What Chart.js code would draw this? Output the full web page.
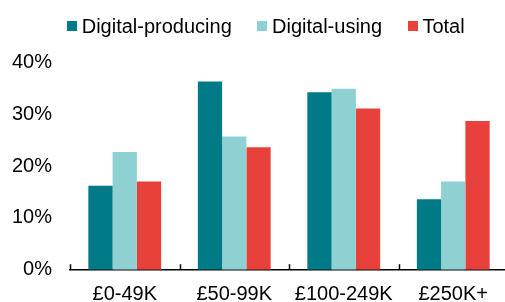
<!DOCTYPE html>
<html>
<head>
<meta charset="utf-8">
<script src="https://cdn.jsdelivr.net/npm/chart.js@4"></script>
<style>
  html, body { margin: 0; padding: 0; background: #fff; overflow: hidden; width: 505px; height: 302px; }
  #wrap { position: absolute; left: 0; top: 0; width: 510px; height: 302px; }
  #legend { position: absolute; left: 67px; top: 16.3px; height: 20px; display: flex; align-items: center;
    font-family: 'Liberation Sans', Arial, sans-serif; font-size: 20px; line-height: 20px; color: #000; white-space: nowrap; }
  .item { display: flex; align-items: center; margin-right: 25.6px; }
  .box { width: 10px; height: 10px; margin-right: 4.7px; }
</style>
</head>
<body>
<div id="wrap"><canvas id="c"></canvas></div>
<div id="legend"></div>
<script>
const categories = ['£0-49K', '£50-99K', '£100-249K', '£250K+'];
const seriesNames = ['Digital-producing', 'Digital-using', 'Total'];
const digitalProducing = [16.2, 36.3, 34.2, 13.6];
const digitalUsing = [22.7, 25.7, 34.9, 17.0];
const total = [17.0, 23.6, 31.1, 28.7];
const yTicks = [0, 10, 20, 30, 40];
const colors = ['#007A87', '#8FD1D2', '#E8403A'];

const seriesValues = [digitalProducing, digitalUsing, total];
const FONT = "'Liberation Sans', Arial, sans-serif";

// HTML legend built from the series names
const lg = document.getElementById('legend');
seriesNames.forEach((n, i) => {
  const it = document.createElement('div'); it.className = 'item';
  const b = document.createElement('div'); b.className = 'box'; b.style.background = colors[i];
  const t = document.createElement('span'); t.textContent = n;
  it.appendChild(b); it.appendChild(t); lg.appendChild(it);
});

const boundaryTicks = {
  id: 'boundaryTicks',
  afterDraw(chart) {
    const x = chart.scales.x, ctx = chart.ctx, area = chart.chartArea;
    const step = x.getPixelForValue(1) - x.getPixelForValue(0);
    ctx.save();
    ctx.strokeStyle = '#000';
    ctx.lineWidth = 1.5;
    for (let i = 0; i <= categories.length; i++) {
      const px = Math.round(x.getPixelForValue(0) - step / 2 + i * step) + 0.5;
      ctx.beginPath();
      ctx.moveTo(px, area.bottom - 5.5);
      ctx.lineTo(px, area.bottom);
      ctx.stroke();
    }
    ctx.restore();
  }
};

new Chart(document.getElementById('c'), {
  type: 'bar',
  data: {
    labels: categories,
    datasets: seriesNames.map((n, i) => ({
      label: n,
      data: seriesValues[i],
      backgroundColor: colors[i],
      borderWidth: 0,
      barPercentage: 1,
      categoryPercentage: 0.665
    }))
  },
  options: {
    responsive: true,
    maintainAspectRatio: false,
    animation: false,
    devicePixelRatio: 1,
    layout: { padding: { top: 62.3, right: 2, left: 0, bottom: 0 } },
    plugins: { legend: { display: false }, tooltip: { enabled: false } },
    scales: {
      x: {
        grid: { display: false, drawTicks: false },
        border: { display: true, color: '#000', width: 1.5 },
        ticks: { color: '#000', font: { family: FONT, size: 20 }, padding: 13, maxRotation: 0, autoSkip: false },
        afterFit(s) { s.height = 32.3; }
      },
      y: {
        min: 0, max: 40,
        afterBuildTicks(s) { s.ticks = yTicks.map(v => ({ value: v })); },
        grid: { display: false, drawTicks: false },
        border: { display: false },
        ticks: { color: '#000', font: { family: FONT, size: 20 }, padding: 18, callback: v => v + '%' },
        afterFit(s) { s.width = 70; }
      }
    }
  },
  plugins: [boundaryTicks]
});
</script>
</body>
</html>
